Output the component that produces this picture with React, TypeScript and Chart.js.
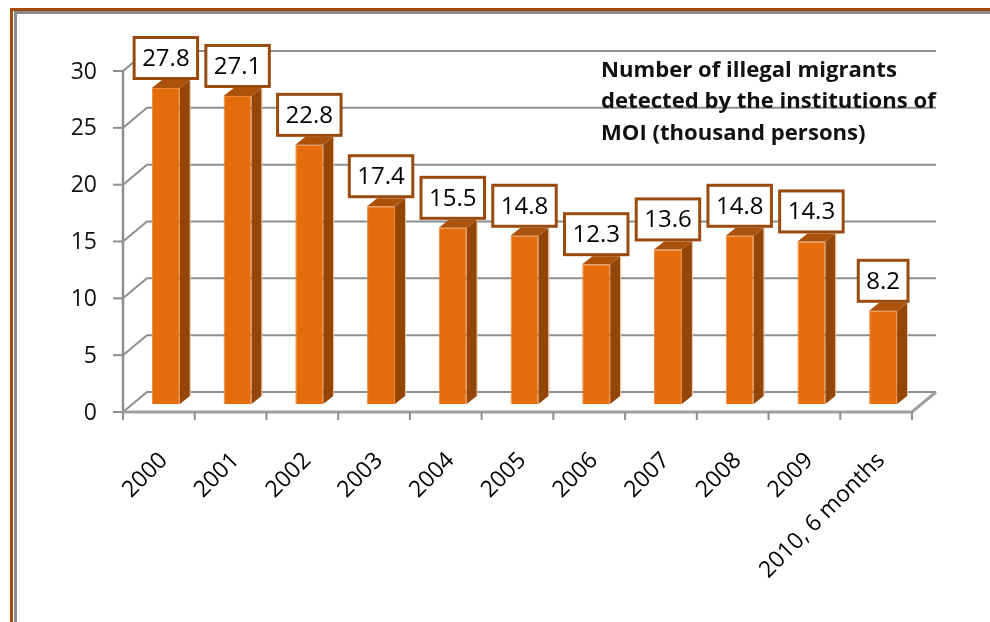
import React, { useEffect, useRef } from "react";
import { Chart, registerables } from "chart.js";

Chart.register(...registerables);

const categories = ["2000", "2001", "2002", "2003", "2004", "2005", "2006", "2007", "2008", "2009", "2010, 6 months"];
const values = [27.8, 27.1, 22.8, 17.4, 15.5, 14.8, 12.3, 13.6, 14.8, 14.3, 8.2];
const yTicks = [0, 5, 10, 15, 20, 25, 30];
const titleLines = ["Number of illegal migrants", "detected by the institutions of", "MOI (thousand persons)"];

const FONT = "'Open Sans'";
const GRID = "#8e8e8e";
const FRONT = { dx: -7, dy: 8 };
const BACK = { dx: 17, dy: -12 };

const wallPlugin = {
  id: "wall3d",
  beforeDatasetsDraw(chart: any) {
    const { ctx, chartArea: a, scales } = chart;
    const x = scales.x, y = scales.y;
    const fx = a.left + FRONT.dx, bx = a.left + BACK.dx;
    const fxr = a.right + FRONT.dx, bxr = a.right + BACK.dx;
    ctx.save();
    ctx.strokeStyle = GRID;
    ctx.lineWidth = 2;
    for (const v of yTicks) {
      const py = y.getPixelForValue(v);
      ctx.beginPath();
      ctx.moveTo(fx, py + FRONT.dy);
      ctx.lineTo(bx, py + BACK.dy);
      ctx.lineTo(bxr, py + BACK.dy);
      ctx.stroke();
      ctx.beginPath();
      ctx.moveTo(fx - 10, py + FRONT.dy);
      ctx.lineTo(fx, py + FRONT.dy);
      ctx.stroke();
    }
    const p0 = y.getPixelForValue(0);
    const pTop = y.getPixelForValue(yTicks[yTicks.length - 1]);
    ctx.lineWidth = 2.5;
    ctx.beginPath();
    ctx.moveTo(fx, pTop + FRONT.dy);
    ctx.lineTo(fx, p0 + FRONT.dy);
    ctx.stroke();
    ctx.strokeStyle = "#a0a0a0";
    ctx.lineWidth = 3;
    ctx.beginPath();
    ctx.moveTo(fx, p0 + FRONT.dy);
    ctx.lineTo(fxr, p0 + FRONT.dy);
    ctx.lineTo(bxr, p0 + BACK.dy);
    ctx.stroke();
    ctx.strokeStyle = GRID;
    ctx.lineWidth = 2;
    for (let i = 0; i <= categories.length; i++) {
      const px = x.getPixelForValue(i - 0.5) + FRONT.dx;
      ctx.beginPath();
      ctx.moveTo(px, p0 + FRONT.dy);
      ctx.lineTo(px, p0 + FRONT.dy + 8);
      ctx.stroke();
    }
    ctx.restore();
  },
  afterDatasetsDraw(chart: any) {
    const { ctx } = chart;
    const meta = chart.getDatasetMeta(0);
    ctx.save();
    meta.data.forEach((bar: any, i: number) => {
      const { x: cx, y: top, base, width } = bar.getProps(["x", "y", "base", "width"], true);
      const l = cx - width / 2, r = cx + width / 2;
      const dx = 10, dy = 8;
      ctx.fillStyle = "#944608";
      ctx.beginPath();
      ctx.moveTo(r, top);
      ctx.lineTo(r + dx, top - dy);
      ctx.lineTo(r + dx, base - dy);
      ctx.lineTo(r, base);
      ctx.closePath();
      ctx.fill();
      ctx.strokeStyle = "#e8c7a6";
      ctx.lineWidth = 1;
      ctx.beginPath();
      ctx.moveTo(r + dx + 0.5, top - dy);
      ctx.lineTo(r + dx + 0.5, base - dy);
      ctx.stroke();
      ctx.fillStyle = "#ad520b";
      ctx.beginPath();
      ctx.moveTo(l, top);
      ctx.lineTo(l + dx, top - dy);
      ctx.lineTo(r + dx, top - dy);
      ctx.lineTo(r, top);
      ctx.closePath();
      ctx.fill();

      const t = values[i].toFixed(1);
      ctx.font = `24px ${FONT}`;
      const tw = ctx.measureText(t).width;
      const bw = tw + 16, bh = 41;
      const bb = top - 9.5;
      const bl = cx - bw / 2;
      ctx.fillStyle = "#ffffff";
      ctx.fillRect(bl, bb - bh, bw, bh);
      ctx.strokeStyle = "#9a4a0c";
      ctx.lineWidth = 3;
      ctx.strokeRect(bl, bb - bh, bw, bh);
      ctx.fillStyle = "#000000";
      ctx.textAlign = "center";
      ctx.textBaseline = "middle";
      ctx.fillText(t, cx, bb - bh / 2 + 1);
    });
    ctx.restore();
  },
  afterDraw(chart: any) {
    const { ctx } = chart;
    ctx.save();
    ctx.font = `bold 22px ${FONT}`;
    const w = ctx.measureText(titleLines[0]).width;
    const size = Math.max(18, Math.min(26, (22 * 296) / w));
    ctx.font = `bold ${size.toFixed(2)}px ${FONT}`;
    ctx.fillStyle = "#111111";
    ctx.textAlign = "left";
    ctx.textBaseline = "alphabetic";
    const baselines = [77, 108, 140];
    titleLines.forEach((s, i) => ctx.fillText(s, 601, baselines[i]));
    ctx.restore();
  },
};

export default function App() {
  const ref = useRef<HTMLCanvasElement | null>(null);
  useEffect(() => {
    if (!ref.current) return;
    const chart = new Chart(ref.current, {
      type: "bar",
      data: {
        labels: categories,
        datasets: [
          {
            data: values,
            backgroundColor: "#e46c0a",
            borderColor: "#ef8a3a",
            borderWidth: 1,
            barPercentage: 0.39,
            categoryPercentage: 1,
          },
        ],
      },
      options: {
        responsive: false,
        animation: false,
        devicePixelRatio: 1,
        layout: { padding: { left: 0, right: 71, top: 63, bottom: 0 } },
        plugins: { legend: { display: false }, title: { display: false }, tooltip: { enabled: false } },
        scales: {
          x: {
            grid: { display: false, drawTicks: false },
            border: { display: false },
            ticks: {
              autoSkip: false,
              minRotation: 45,
              maxRotation: 45,
              padding: 43,
              labelOffset: -2,
              color: "#000000",
              font: { family: FONT, size: 23 },
            },
            afterFit: (s: any) => {
              s.height = 218;
            },
          },
          y: {
            min: 0,
            max: 30,
            grid: { display: false, drawTicks: false },
            border: { display: false },
            ticks: {
              stepSize: 5,
              padding: 33,
              labelOffset: 9,
              color: "#111111",
              font: { family: FONT, size: 23 },
            },
            afterFit: (s: any) => {
              s.width = 130;
            },
          },
        },
      },
      plugins: [wallPlugin],
    });
    return () => chart.destroy();
  }, []);

  return (
    <div style={{ position: "fixed", left: 0, top: 0, width: 990, height: 622, overflow: "hidden", background: "#fff" }}>
      <div
        style={{
          position: "absolute",
          left: 10,
          top: 8,
          width: 1000,
          height: 700,
          borderLeft: "3px solid #9e4c10",
          borderTop: "3px solid #9e4c10",
        }}
      />
      <div
        style={{
          position: "absolute",
          left: 14,
          top: 11,
          width: 1000,
          height: 700,
          borderLeft: "3px solid #8a8a8a",
          borderTop: "3px solid #8a8a8a",
        }}
      />
      <canvas ref={ref} width={990} height={622} style={{ position: "absolute", left: 0, top: 0 }} />
    </div>
  );
}
